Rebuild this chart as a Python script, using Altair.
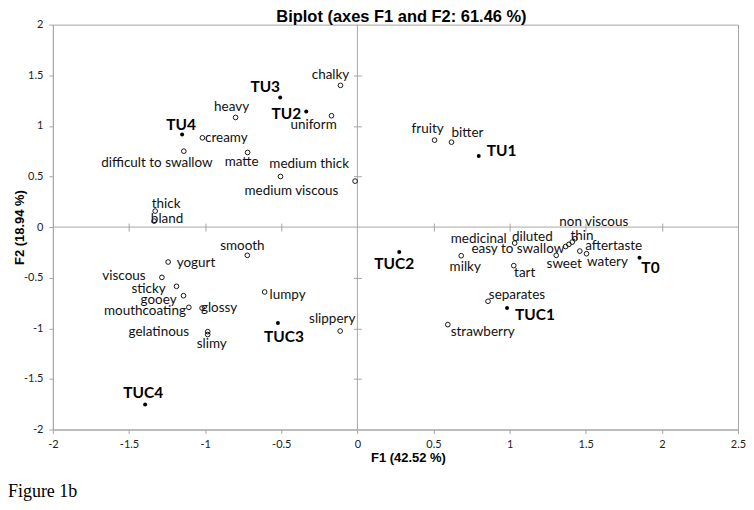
import altair as alt
import pandas as pd

W, H = 687, 406
X_DOMAIN = [-2, 2.5]
Y_DOMAIN = [-2, 2]
TITLE = "Biplot (axes F1 and F2: 61.46 %)"
CAPTION = "Figure 1b"

# ---- attributes (open circles) ----
attr_names = ["chalky", "uniform", "heavy", "creamy", "difficult to swallow", "matte",
              "medium thick", "medium viscous", "thick", "bland", "fruity", "bitter",
              "smooth", "yogurt", "viscous", "sticky", "gooey", "mouthcoating", "glossy",
              "gelatinous", "slimy", "lumpy", "slippery", "milky", "medicinal", "diluted",
              "easy to swallow", "non viscous", "thin", "aftertaste", "watery", "sweet",
              "tart", "separates", "strawberry"]
attr_f1 = [-0.111, -0.170, -0.800, -1.018, -1.140, -0.721,
           -0.015, -0.505, -1.328, -1.335, 0.507, 0.618,
           -0.723, -1.243, -1.284, -1.188, -1.142, -1.107, -1.020,
           -0.983, -0.983, -0.609, -0.113, 0.682, 1.033, 1.411,
           1.368, 1.389, 1.429, 1.461, 1.505, 1.306,
           1.027, 0.858, 0.594]
attr_f2 = [1.400, 1.100, 1.083, 0.882, 0.750, 0.737,
           0.454, 0.500, 0.158, 0.059, 0.859, 0.839,
           -0.279, -0.345, -0.497, -0.585, -0.678, -0.793, -0.800,
           -1.033, -1.062, -0.641, -1.027, -0.283, -0.158, -0.148,
           -0.192, -0.171, -0.115, -0.237, -0.263, -0.279,
           -0.381, -0.733, -0.964]
# label offsets from the point (pixels)
attr_dx = [-10, -18, -4, 24, -27, -6,
           -46, 11, 11, 13, -7, 16,
           -5, 28, -38, -28, -25, -44, 17,
           -49, 4, 23, -8, 4, -36, -40,
           -48, 25, 7, 34, 21, 8,
           11, 29, 35]
attr_dy = [-10, 9, -10, 0, 12, 10,
           -17, 15, -7, -2, -11, -9,
           -9, 1, -1, 3, 4, 4, 0,
           0, 9, 3, -12, 11, -4, -5,
           3, -22, -3, -5, 8, 9,
           7, -6, 7]

# ---- samples (filled dots) ----
obs_names = ["T0", "TU1", "TU2", "TU3", "TU4", "TUC1", "TUC2", "TUC3", "TUC4"]
obs_f1 = [1.853, 0.797, -0.336, -0.507, -1.151, 0.983, 0.275, -0.522, -1.394]
obs_f2 = [-0.303, 0.701, 1.142, 1.280, 0.915, -0.800, -0.247, -0.948, -1.753]
obs_dx = [11, 23, -20, -15, -1, 28, -5, 6, -2]
obs_dy = [10, -5, 3, -11, -9, 7, 12, 14, -12]

tick_x = [-2, -1.5, -1, -0.5, 0, 0.5, 1, 1.5, 2, 2.5]
tick_y = [-2, -1.5, -1, -0.5, 0, 0.5, 1, 1.5, 2]

px_x = (X_DOMAIN[1] - X_DOMAIN[0]) / W
px_y = (Y_DOMAIN[1] - Y_DOMAIN[0]) / H

attr = pd.DataFrame({"name": attr_names, "f1": attr_f1, "f2": attr_f2,
                     "dx": attr_dx, "dy": attr_dy})
attr["lx"] = attr["f1"] + attr["dx"] * px_x
attr["ly"] = attr["f2"] - attr["dy"] * px_y
obs = pd.DataFrame({"name": obs_names, "f1": obs_f1, "f2": obs_f2,
                    "dx": obs_dx, "dy": obs_dy})
obs["lx"] = obs["f1"] + obs["dx"] * px_x
obs["ly"] = obs["f2"] - obs["dy"] * px_y
zero = pd.DataFrame({"v": [0]})

GRAY = "#a6a6a6"
xs = alt.Scale(domain=X_DOMAIN, nice=False, zero=False)
ys = alt.Scale(domain=Y_DOMAIN, nice=False, zero=False)
LBL = "'' + datum.value"

x_main = alt.Axis(values=tick_x, labelExpr=LBL, grid=False, domainColor=GRAY,
                  tickColor=GRAY, tickSize=4, labelPadding=5, labelFont="Lato",
                  labelFontSize=11, labelColor="#222", labelFlush=False,
                  title="F1 (42.52 %)", titleFont="Liberation Sans", titleFontSize=13,
                  titleFontWeight="bold", titleX=356, titleY=28, titleBaseline="middle",
                  titleColor="black", orient="bottom")
y_main = alt.Axis(values=tick_y, labelExpr=LBL, grid=False, domainColor=GRAY,
                  tickColor=GRAY, tickSize=4, labelPadding=6, labelFont="Lato",
                  labelFontSize=11, labelColor="#222", labelFlush=False,
                  title="F2 (18.94 %)", titleFont="Liberation Sans", titleFontSize=13,
                  titleFontWeight="bold", titleX=-33, titleY=203, titleBaseline="middle",
                  titleAngle=270, titleColor="black", orient="left")
x_zero = alt.Axis(values=[-1.5, -1, -0.5, 0.5, 1, 1.5, 2], orient="bottom",
                  offset=-(H / 2 + 4), domain=False, labels=False, grid=False,
                  tickColor=GRAY, tickSize=8, title=None)
y_zero = alt.Axis(values=[-1.5, -1, -0.5, 0.5, 1, 1.5], orient="left",
                  offset=-(W * 2 / 4.5 + 4), domain=False, labels=False, grid=False,
                  tickColor=GRAY, tickSize=8, title=None)

vline = alt.Chart(zero).mark_rule(color=GRAY, strokeWidth=1).encode(
    x=alt.X("v:Q", scale=xs, axis=None))
hline = alt.Chart(zero).mark_rule(color=GRAY, strokeWidth=1).encode(
    y=alt.Y("v:Q", scale=ys, axis=None))

zero_axes = alt.Chart(attr).mark_point(opacity=0).encode(
    x=alt.X("f1:Q", scale=xs, axis=x_zero),
    y=alt.Y("f2:Q", scale=ys, axis=y_zero))

attr_pts = alt.Chart(attr).mark_point(shape="circle", filled=False, color="black",
                                       size=22, strokeWidth=0.9, opacity=1).encode(
    x=alt.X("f1:Q", scale=xs, axis=x_main),
    y=alt.Y("f2:Q", scale=ys, axis=y_main))

attr_lbl = alt.Chart(attr).mark_text(font="Lato", fontSize=13.5, align="center",
                                      baseline="middle", color="#111").encode(
    x=alt.X("lx:Q", scale=xs, axis=None),
    y=alt.Y("ly:Q", scale=ys, axis=None),
    text="name:N")

obs_pts = alt.Chart(obs).mark_circle(size=16, color="black", opacity=1).encode(
    x=alt.X("f1:Q", scale=xs, axis=None),
    y=alt.Y("f2:Q", scale=ys, axis=None))

obs_lbl = alt.Chart(obs).mark_text(font="Lato", fontSize=15.5, fontWeight="bold",
                                    align="center", baseline="middle",
                                    color="black").encode(
    x=alt.X("lx:Q", scale=xs, axis=None),
    y=alt.Y("ly:Q", scale=ys, axis=None),
    text="name:N")

title_lbl = alt.Chart(zero).mark_text(font="Liberation Sans", fontSize=16.5,
                                       fontWeight="bold", align="center",
                                       baseline="alphabetic", color="black").encode(
    x=alt.value(W / 2 + 6), y=alt.value(-3), text=alt.value(TITLE))

fig_lbl = alt.Chart(zero).mark_text(font="Liberation Serif", fontSize=18,
                                     align="left", baseline="alphabetic",
                                     color="black").encode(
    x=alt.value(-45), y=alt.value(H + 68), text=alt.value(CAPTION))

chart = alt.layer(vline, hline, zero_axes, attr_pts, attr_lbl, obs_pts, obs_lbl,
                  title_lbl, fig_lbl).resolve_axis(
    x="independent", y="independent").properties(
    width=W, height=H,
    autosize=alt.AutoSizeParams(type="none"),
    padding={"left": 45, "top": 16, "right": 8, "bottom": 74},
).configure_view(stroke=GRAY, strokeWidth=1)

chart.save("out.html", embed_options={"renderer": "svg", "actions": False})
